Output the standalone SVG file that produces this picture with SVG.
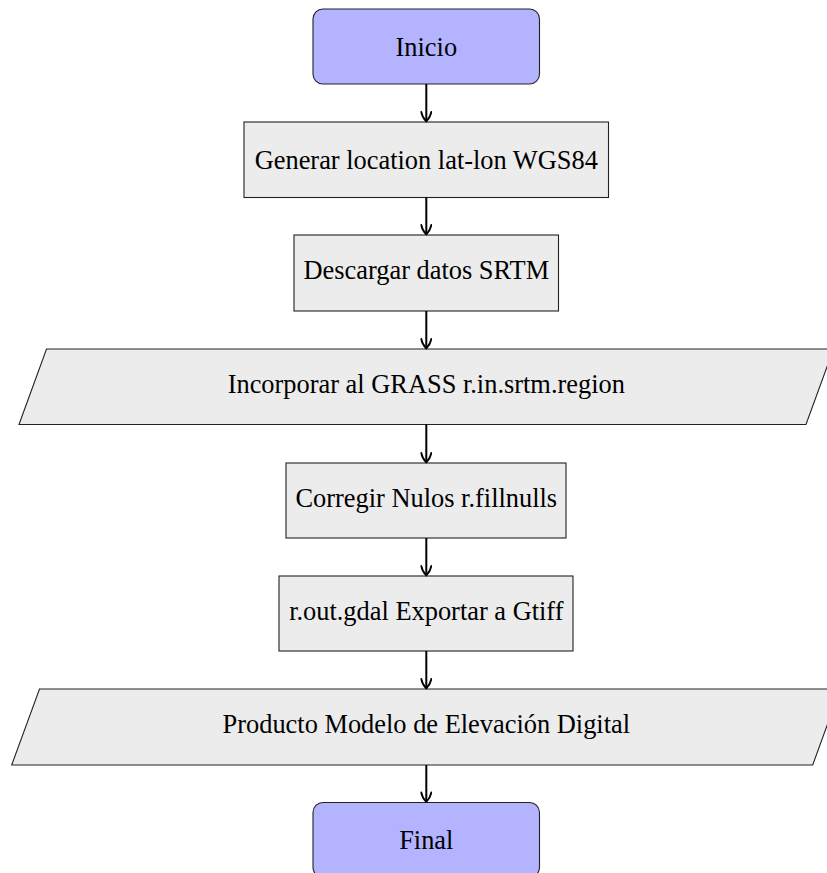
<svg xmlns="http://www.w3.org/2000/svg" width="827" height="873" viewBox="0 0 827 873">
<defs>
<style>
.term{fill:#b3b3ff;stroke:#222;stroke-width:1.1}
.proc{fill:#ececec;stroke:#222;stroke-width:1.1}
.io{fill:#ececec;stroke:#222;stroke-width:1.1}
.lbl{font-family:'Liberation Serif','Times New Roman','DejaVu Serif',serif;font-size:26.4px;fill:#000;text-anchor:middle}
.conn line{stroke:#000;stroke-width:2}
</style>
<marker id="arr" viewBox="-11 -6 12 12" markerWidth="12" markerHeight="12" refX="0" refY="0" markerUnits="userSpaceOnUse" orient="auto">
<path d="M-9.5,-5 C-5,-4.3 -1.6,-1.5 0,0 C-1.6,1.5 -5,4.3 -9.5,5" fill="none" stroke="#000" stroke-width="1.8" stroke-linecap="round" stroke-linejoin="round"/>
</marker>
</defs>
<rect width="827" height="873" fill="#fff"/>
<g id="inicio">
<rect class="term" x="313" y="9" width="226.5" height="75" rx="10" ry="10"/>
<text class="lbl" font-family="Liberation Serif, serif" x="426.3" y="55.5">Inicio</text>
</g>
<g id="generar">
<rect class="proc" x="244" y="122" width="364.5" height="75.5"/>
<text class="lbl" font-family="Liberation Serif, serif" x="426.3" y="168.7">Generar location lat-lon WGS84</text>
</g>
<g id="descargar">
<rect class="proc" x="294" y="235" width="264.5" height="76"/>
<text class="lbl" font-family="Liberation Serif, serif" x="426.3" y="279">Descargar datos SRTM</text>
</g>
<g id="incorporar">
<polygon class="io" points="46.5,349 833.5,349 806,424.5 19,424.5"/>
<text class="lbl" font-family="Liberation Serif, serif" x="426.3" y="392.8">Incorporar al GRASS r.in.srtm.region</text>
</g>
<g id="corregir">
<rect class="proc" x="286" y="463" width="280" height="75"/>
<text class="lbl" font-family="Liberation Serif, serif" x="426.3" y="506.5">Corregir Nulos r.fillnulls</text>
</g>
<g id="exportar">
<rect class="proc" x="279" y="576" width="294" height="75"/>
<text class="lbl" font-family="Liberation Serif, serif" x="426.3" y="619.5">r.out.gdal Exportar a Gtiff</text>
</g>
<g id="producto">
<polygon class="io" points="39.5,689 840.3,689 812.7,765 11.7,765"/>
<text class="lbl" font-family="Liberation Serif, serif" x="426.3" y="733">Producto Modelo de Elevación Digital</text>
</g>
<g id="final">
<rect class="term" x="313" y="802.5" width="226.5" height="75" rx="10" ry="10"/>
<text class="lbl" font-family="Liberation Serif, serif" x="426.3" y="849">Final</text>
</g>
<g id="connectors" class="conn">
<line x1="426.3" y1="84" x2="426.3" y2="121.5" marker-end="url(#arr)"/>
<line x1="426.3" y1="197.5" x2="426.3" y2="234.5" marker-end="url(#arr)"/>
<line x1="426.3" y1="311" x2="426.3" y2="348.5" marker-end="url(#arr)"/>
<line x1="426.3" y1="424.5" x2="426.3" y2="462.5" marker-end="url(#arr)"/>
<line x1="426.3" y1="538" x2="426.3" y2="575.5" marker-end="url(#arr)"/>
<line x1="426.3" y1="651" x2="426.3" y2="688.5" marker-end="url(#arr)"/>
<line x1="426.3" y1="765" x2="426.3" y2="802" marker-end="url(#arr)"/>
</g>
</svg>
